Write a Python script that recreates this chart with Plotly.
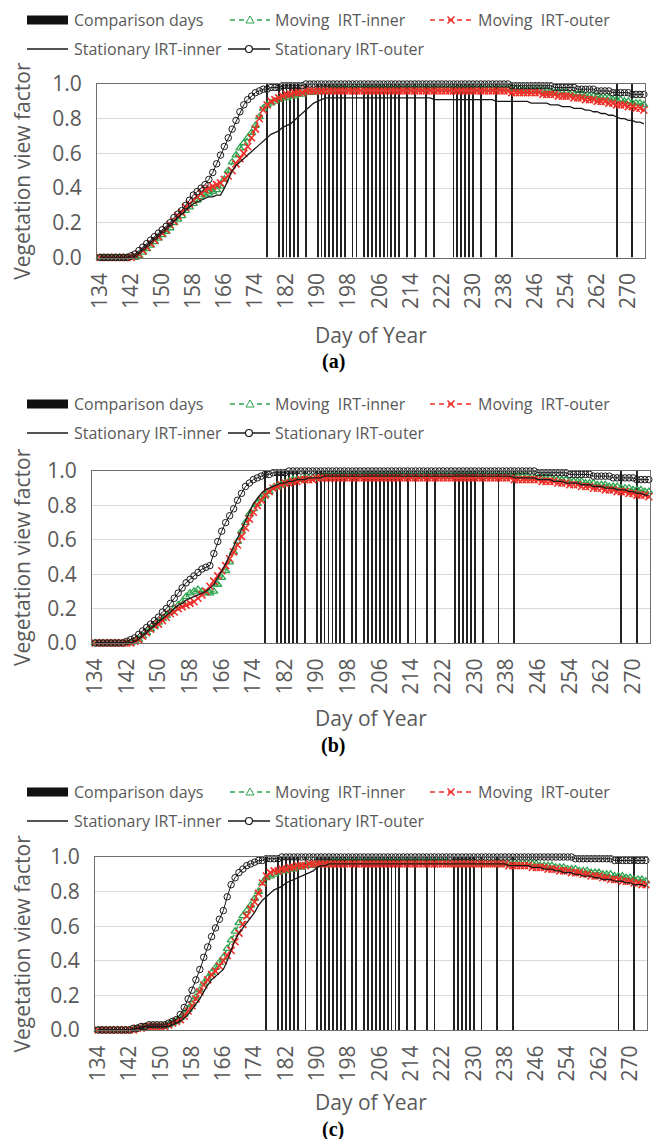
import plotly.graph_objects as go

W, H = 653, 1139

# ---------------- data ----------------
days = list(range(134, 275))
tick_days = [134, 142, 150, 158, 166, 174, 182, 190, 198, 206, 214, 222, 230, 238, 246, 254, 262, 270]
y_ticks = [0.0, 0.2, 0.4, 0.6, 0.8, 1.0]

comparison_days = [177, 180, 181, 182, 183, 184, 185, 187, 190, 191, 192, 193, 194, 195, 196, 197,
                   199, 200, 202, 203, 204, 205, 206, 207, 208, 209, 210, 211, 213, 215, 218, 220,
                   225, 226, 227, 228, 229, 230, 232, 236, 240, 267, 271]
comparison_values = [1, 1, 1, 1, 1, 1, 1, 1, 1, 1, 1, 1, 1, 1, 1, 1,
                     1, 1, 1, 1, 1, 1, 1, 1, 1, 1, 1, 1, 1, 1, 1, 1,
                     1, 1, 1, 1, 1, 1, 1, 1, 1, 1, 1]

# ---- panel (a)
moving_inner_a = [
    0, 0, 0, 0, 0, 0, 0, 0, 0, 0,
    0.01, 0.03, 0.05, 0.07, 0.09, 0.11, 0.13, 0.15, 0.17, 0.20,
    0.22, 0.24, 0.27, 0.29, 0.31, 0.33, 0.35, 0.36, 0.37, 0.38,
    0.39, 0.41, 0.45, 0.50, 0.55, 0.59, 0.63, 0.66, 0.69, 0.72,
    0.76, 0.81, 0.86, 0.88, 0.89, 0.90, 0.91, 0.92, 0.92, 0.93,
    0.93, 0.94, 0.94, 0.95, 0.95, 0.95, 0.96, 0.96, 0.96, 0.96,
    0.97, 0.97, 0.97, 0.97, 0.97, 0.97, 0.97, 0.97, 0.97, 0.97,
    0.97, 0.97, 0.97, 0.97, 0.97, 0.97, 0.97, 0.97, 0.97, 0.97,
    0.97, 0.97, 0.97, 0.97, 0.97, 0.97, 0.97, 0.97, 0.97, 0.97,
    0.97, 0.97, 0.97, 0.97, 0.97, 0.97, 0.97, 0.97, 0.97, 0.97,
    0.97, 0.97, 0.97, 0.97, 0.97, 0.97, 0.97, 0.97, 0.97, 0.96,
    0.96, 0.96, 0.96, 0.96, 0.96, 0.96, 0.95, 0.95, 0.95, 0.95,
    0.95, 0.94, 0.94, 0.94, 0.94, 0.93, 0.93, 0.93, 0.93, 0.92,
    0.92, 0.92, 0.91, 0.91, 0.91, 0.90, 0.90, 0.89, 0.89, 0.89,
    0.88]
moving_outer_a = [
    0, 0, 0, 0, 0, 0, 0, 0, 0, 0.01,
    0.02, 0.04, 0.06, 0.08, 0.10, 0.12, 0.14, 0.16, 0.19, 0.21,
    0.24, 0.26, 0.29, 0.31, 0.33, 0.35, 0.37, 0.39, 0.40, 0.41,
    0.42, 0.43, 0.45, 0.47, 0.50, 0.54, 0.57, 0.60, 0.64, 0.69,
    0.74, 0.80, 0.85, 0.88, 0.90, 0.91, 0.92, 0.93, 0.94, 0.94,
    0.95, 0.95, 0.95, 0.96, 0.96, 0.96, 0.96, 0.96, 0.96, 0.96,
    0.96, 0.96, 0.96, 0.96, 0.96, 0.96, 0.96, 0.96, 0.96, 0.96,
    0.96, 0.96, 0.96, 0.96, 0.96, 0.96, 0.96, 0.96, 0.96, 0.96,
    0.96, 0.96, 0.96, 0.96, 0.96, 0.96, 0.96, 0.96, 0.96, 0.96,
    0.96, 0.96, 0.96, 0.96, 0.96, 0.96, 0.96, 0.96, 0.96, 0.96,
    0.96, 0.96, 0.96, 0.96, 0.96, 0.96, 0.95, 0.95, 0.95, 0.95,
    0.95, 0.95, 0.95, 0.95, 0.94, 0.94, 0.94, 0.94, 0.93, 0.93,
    0.93, 0.93, 0.92, 0.92, 0.92, 0.91, 0.91, 0.91, 0.90, 0.90,
    0.90, 0.89, 0.89, 0.88, 0.88, 0.88, 0.87, 0.87, 0.86, 0.86,
    0.85]
stationary_inner_a = [
    0, 0, 0, 0, 0, 0, 0, 0, 0, 0.01,
    0.03, 0.05, 0.07, 0.09, 0.11, 0.13, 0.15, 0.17, 0.19, 0.21,
    0.23, 0.25, 0.27, 0.29, 0.31, 0.32, 0.33, 0.34, 0.35, 0.35,
    0.36, 0.36, 0.40, 0.45, 0.50, 0.53, 0.55, 0.57, 0.59, 0.61,
    0.63, 0.65, 0.67, 0.69, 0.71, 0.72, 0.73, 0.75, 0.76, 0.77,
    0.79, 0.81, 0.83, 0.85, 0.87, 0.89, 0.90, 0.91, 0.92, 0.92,
    0.92, 0.92, 0.92, 0.92, 0.92, 0.92, 0.92, 0.92, 0.92, 0.92,
    0.92, 0.92, 0.92, 0.92, 0.92, 0.92, 0.92, 0.92, 0.92, 0.92,
    0.92, 0.92, 0.92, 0.92, 0.92, 0.92, 0.91, 0.91, 0.91, 0.91,
    0.91, 0.91, 0.91, 0.91, 0.91, 0.91, 0.91, 0.91, 0.91, 0.91,
    0.91, 0.91, 0.90, 0.90, 0.90, 0.90, 0.90, 0.90, 0.90, 0.90,
    0.90, 0.89, 0.89, 0.89, 0.89, 0.89, 0.88, 0.88, 0.88, 0.87,
    0.87, 0.87, 0.86, 0.86, 0.86, 0.85, 0.85, 0.84, 0.84, 0.83,
    0.83, 0.82, 0.82, 0.81, 0.80, 0.80, 0.79, 0.79, 0.78, 0.78,
    0.77]
stationary_outer_a = [
    0, 0, 0, 0, 0, 0, 0, 0, 0.01, 0.02,
    0.04, 0.06, 0.08, 0.10, 0.12, 0.14, 0.16, 0.18, 0.20, 0.23,
    0.25, 0.27, 0.30, 0.33, 0.36, 0.38, 0.40, 0.42, 0.45, 0.49,
    0.54, 0.59, 0.64, 0.69, 0.74, 0.79, 0.84, 0.88, 0.91, 0.93,
    0.95, 0.96, 0.97, 0.97, 0.98, 0.98, 0.98, 0.99, 0.99, 0.99,
    0.99, 0.99, 0.99, 1.00, 1.00, 1.00, 1.00, 1.00, 1.00, 1.00,
    1.00, 1.00, 1.00, 1.00, 1.00, 1.00, 1.00, 1.00, 1.00, 1.00,
    1.00, 1.00, 1.00, 1.00, 1.00, 1.00, 1.00, 1.00, 1.00, 1.00,
    1.00, 1.00, 1.00, 1.00, 1.00, 1.00, 1.00, 1.00, 1.00, 1.00,
    1.00, 1.00, 1.00, 1.00, 1.00, 1.00, 1.00, 1.00, 1.00, 1.00,
    1.00, 1.00, 1.00, 1.00, 1.00, 1.00, 0.99, 0.99, 0.99, 0.99,
    0.99, 0.99, 0.99, 0.99, 0.99, 0.99, 0.99, 0.98, 0.98, 0.98,
    0.98, 0.98, 0.98, 0.97, 0.97, 0.97, 0.97, 0.97, 0.96, 0.96,
    0.96, 0.96, 0.95, 0.95, 0.95, 0.95, 0.95, 0.94, 0.94, 0.94,
    0.94]

# ---- panel (b)
moving_inner_b = [
    0, 0, 0, 0, 0, 0, 0, 0, 0, 0,
    0.01, 0.02, 0.04, 0.06, 0.08, 0.10, 0.12, 0.14, 0.16, 0.18,
    0.20, 0.22, 0.24, 0.27, 0.29, 0.30, 0.31, 0.30, 0.29, 0.29,
    0.30, 0.34, 0.38, 0.42, 0.47, 0.53, 0.59, 0.65, 0.70, 0.75,
    0.78, 0.81, 0.84, 0.86, 0.88, 0.90, 0.91, 0.92, 0.93, 0.94,
    0.95, 0.95, 0.95, 0.96, 0.96, 0.96, 0.96, 0.96, 0.97, 0.97,
    0.97, 0.97, 0.97, 0.97, 0.97, 0.97, 0.97, 0.97, 0.97, 0.97,
    0.97, 0.97, 0.97, 0.97, 0.97, 0.97, 0.97, 0.97, 0.97, 0.97,
    0.97, 0.97, 0.97, 0.97, 0.97, 0.97, 0.97, 0.97, 0.97, 0.97,
    0.97, 0.97, 0.97, 0.97, 0.97, 0.97, 0.97, 0.97, 0.97, 0.97,
    0.97, 0.97, 0.97, 0.97, 0.97, 0.97, 0.97, 0.97, 0.97, 0.97,
    0.96, 0.96, 0.96, 0.96, 0.96, 0.96, 0.95, 0.95, 0.95, 0.95,
    0.94, 0.94, 0.94, 0.94, 0.93, 0.93, 0.93, 0.92, 0.92, 0.92,
    0.91, 0.91, 0.91, 0.90, 0.90, 0.90, 0.89, 0.89, 0.89, 0.88,
    0.88]
moving_outer_b = [
    0, 0, 0, 0, 0, 0, 0, 0, 0, 0,
    0.01, 0.02, 0.04, 0.06, 0.08, 0.10, 0.11, 0.13, 0.15, 0.17,
    0.18, 0.20, 0.21, 0.22, 0.23, 0.24, 0.26, 0.28, 0.30, 0.33,
    0.36, 0.39, 0.42, 0.45, 0.49, 0.53, 0.57, 0.62, 0.67, 0.72,
    0.76, 0.80, 0.83, 0.86, 0.88, 0.90, 0.91, 0.92, 0.93, 0.93,
    0.94, 0.94, 0.95, 0.95, 0.95, 0.95, 0.96, 0.96, 0.96, 0.96,
    0.96, 0.96, 0.96, 0.96, 0.96, 0.96, 0.96, 0.96, 0.96, 0.96,
    0.96, 0.96, 0.96, 0.96, 0.96, 0.96, 0.96, 0.96, 0.96, 0.96,
    0.96, 0.96, 0.96, 0.96, 0.96, 0.96, 0.96, 0.96, 0.96, 0.96,
    0.96, 0.96, 0.96, 0.96, 0.96, 0.96, 0.96, 0.96, 0.96, 0.96,
    0.96, 0.96, 0.96, 0.96, 0.96, 0.96, 0.95, 0.95, 0.95, 0.95,
    0.95, 0.95, 0.95, 0.94, 0.94, 0.94, 0.94, 0.93, 0.93, 0.93,
    0.92, 0.92, 0.92, 0.91, 0.91, 0.91, 0.90, 0.90, 0.90, 0.89,
    0.89, 0.89, 0.88, 0.88, 0.88, 0.87, 0.87, 0.86, 0.86, 0.86,
    0.85]
stationary_inner_b = [
    0, 0, 0, 0, 0, 0, 0, 0, 0, 0,
    0.01, 0.02, 0.04, 0.06, 0.08, 0.10, 0.12, 0.14, 0.16, 0.18,
    0.20, 0.22, 0.23, 0.25, 0.26, 0.27, 0.28, 0.29, 0.30, 0.32,
    0.34, 0.38, 0.42, 0.46, 0.51, 0.56, 0.61, 0.66, 0.71, 0.76,
    0.81, 0.84, 0.87, 0.89, 0.90, 0.91, 0.92, 0.93, 0.93, 0.94,
    0.94, 0.95, 0.95, 0.95, 0.96, 0.96, 0.96, 0.96, 0.97, 0.97,
    0.97, 0.97, 0.97, 0.97, 0.97, 0.97, 0.97, 0.97, 0.97, 0.97,
    0.97, 0.97, 0.97, 0.97, 0.97, 0.97, 0.97, 0.97, 0.97, 0.97,
    0.97, 0.97, 0.97, 0.97, 0.97, 0.97, 0.97, 0.97, 0.97, 0.97,
    0.97, 0.97, 0.97, 0.97, 0.97, 0.97, 0.97, 0.97, 0.97, 0.97,
    0.97, 0.97, 0.97, 0.97, 0.97, 0.97, 0.96, 0.96, 0.96, 0.96,
    0.96, 0.96, 0.95, 0.95, 0.95, 0.95, 0.94, 0.94, 0.94, 0.93,
    0.93, 0.93, 0.93, 0.92, 0.92, 0.92, 0.91, 0.91, 0.91, 0.90,
    0.90, 0.90, 0.89, 0.89, 0.89, 0.88, 0.88, 0.87, 0.87, 0.86,
    0.86]
stationary_outer_b = [
    0, 0, 0, 0, 0, 0, 0, 0, 0.01, 0.02,
    0.03, 0.05, 0.07, 0.09, 0.11, 0.13, 0.15, 0.18, 0.20, 0.23,
    0.26, 0.29, 0.32, 0.35, 0.37, 0.39, 0.41, 0.43, 0.44, 0.45,
    0.52, 0.59, 0.65, 0.70, 0.74, 0.78, 0.83, 0.87, 0.91, 0.93,
    0.95, 0.96, 0.97, 0.98, 0.98, 0.99, 0.99, 0.99, 0.99, 1.00,
    1.00, 1.00, 1.00, 1.00, 1.00, 1.00, 1.00, 1.00, 1.00, 1.00,
    1.00, 1.00, 1.00, 1.00, 1.00, 1.00, 1.00, 1.00, 1.00, 1.00,
    1.00, 1.00, 1.00, 1.00, 1.00, 1.00, 1.00, 1.00, 1.00, 1.00,
    1.00, 1.00, 1.00, 1.00, 1.00, 1.00, 1.00, 1.00, 1.00, 1.00,
    1.00, 1.00, 1.00, 1.00, 1.00, 1.00, 1.00, 1.00, 1.00, 1.00,
    1.00, 1.00, 1.00, 1.00, 1.00, 1.00, 1.00, 1.00, 1.00, 1.00,
    1.00, 1.00, 0.99, 0.99, 0.99, 0.99, 0.99, 0.99, 0.99, 0.99,
    0.98, 0.98, 0.98, 0.98, 0.98, 0.98, 0.97, 0.97, 0.97, 0.97,
    0.97, 0.96, 0.96, 0.96, 0.96, 0.96, 0.96, 0.95, 0.95, 0.95,
    0.95]

# ---- panel (c)
moving_inner_c = [
    0, 0, 0, 0, 0, 0, 0, 0, 0, 0,
    0.01, 0.01, 0.02, 0.02, 0.02, 0.02, 0.02, 0.02, 0.03, 0.04,
    0.05, 0.07, 0.09, 0.12, 0.15, 0.19, 0.23, 0.27, 0.30, 0.33,
    0.36, 0.39, 0.42, 0.47, 0.52, 0.57, 0.62, 0.66, 0.69, 0.72,
    0.76, 0.80, 0.85, 0.88, 0.89, 0.90, 0.91, 0.92, 0.92, 0.93,
    0.93, 0.94, 0.94, 0.95, 0.95, 0.95, 0.96, 0.96, 0.96, 0.96,
    0.97, 0.97, 0.97, 0.97, 0.97, 0.97, 0.97, 0.97, 0.97, 0.97,
    0.97, 0.97, 0.97, 0.97, 0.97, 0.97, 0.97, 0.97, 0.97, 0.97,
    0.97, 0.97, 0.97, 0.97, 0.97, 0.97, 0.97, 0.97, 0.97, 0.97,
    0.96, 0.96, 0.96, 0.96, 0.96, 0.96, 0.96, 0.96, 0.96, 0.96,
    0.96, 0.96, 0.96, 0.96, 0.96, 0.96, 0.96, 0.96, 0.96, 0.96,
    0.96, 0.96, 0.96, 0.95, 0.95, 0.95, 0.95, 0.94, 0.94, 0.94,
    0.93, 0.93, 0.93, 0.92, 0.92, 0.92, 0.91, 0.91, 0.91, 0.90,
    0.90, 0.90, 0.89, 0.89, 0.89, 0.88, 0.88, 0.87, 0.87, 0.87,
    0.86]
moving_outer_c = [
    0, 0, 0, 0, 0, 0, 0, 0, 0, 0,
    0.01, 0.01, 0.02, 0.02, 0.02, 0.02, 0.02, 0.02, 0.03, 0.04,
    0.05, 0.06, 0.08, 0.11, 0.14, 0.18, 0.22, 0.26, 0.29, 0.32,
    0.34, 0.37, 0.40, 0.43, 0.46, 0.51, 0.56, 0.61, 0.66, 0.70,
    0.74, 0.79, 0.85, 0.89, 0.91, 0.92, 0.92, 0.93, 0.93, 0.94,
    0.94, 0.95, 0.95, 0.95, 0.96, 0.96, 0.96, 0.96, 0.96, 0.96,
    0.96, 0.96, 0.96, 0.96, 0.96, 0.96, 0.96, 0.96, 0.96, 0.96,
    0.96, 0.96, 0.96, 0.96, 0.96, 0.96, 0.96, 0.96, 0.96, 0.96,
    0.96, 0.96, 0.96, 0.96, 0.96, 0.96, 0.96, 0.96, 0.96, 0.96,
    0.96, 0.96, 0.96, 0.96, 0.96, 0.96, 0.96, 0.96, 0.96, 0.96,
    0.96, 0.96, 0.96, 0.96, 0.96, 0.95, 0.95, 0.95, 0.95, 0.95,
    0.95, 0.94, 0.94, 0.94, 0.94, 0.93, 0.93, 0.93, 0.92, 0.92,
    0.92, 0.91, 0.91, 0.91, 0.90, 0.90, 0.89, 0.89, 0.89, 0.88,
    0.88, 0.87, 0.87, 0.87, 0.86, 0.86, 0.86, 0.85, 0.85, 0.84,
    0.84]
stationary_inner_c = [
    0, 0, 0, 0, 0, 0, 0, 0, 0, 0,
    0.01, 0.01, 0.02, 0.02, 0.02, 0.02, 0.02, 0.02, 0.02, 0.03,
    0.04, 0.05, 0.07, 0.09, 0.12, 0.15, 0.18, 0.22, 0.26, 0.29,
    0.31, 0.33, 0.35, 0.40, 0.46, 0.52, 0.56, 0.59, 0.62, 0.65,
    0.68, 0.72, 0.75, 0.77, 0.79, 0.81, 0.82, 0.83, 0.85, 0.86,
    0.87, 0.88, 0.89, 0.90, 0.91, 0.92, 0.94, 0.95, 0.95, 0.96,
    0.96, 0.96, 0.96, 0.96, 0.96, 0.96, 0.96, 0.96, 0.96, 0.96,
    0.96, 0.96, 0.96, 0.96, 0.96, 0.96, 0.96, 0.96, 0.96, 0.96,
    0.96, 0.96, 0.96, 0.96, 0.96, 0.96, 0.96, 0.96, 0.96, 0.96,
    0.96, 0.96, 0.96, 0.96, 0.96, 0.96, 0.96, 0.96, 0.96, 0.96,
    0.96, 0.96, 0.96, 0.96, 0.96, 0.95, 0.95, 0.95, 0.95, 0.95,
    0.95, 0.94, 0.94, 0.94, 0.93, 0.93, 0.93, 0.92, 0.92, 0.91,
    0.91, 0.91, 0.90, 0.90, 0.89, 0.89, 0.89, 0.88, 0.88, 0.87,
    0.87, 0.87, 0.86, 0.86, 0.86, 0.85, 0.85, 0.84, 0.84, 0.84,
    0.83]
stationary_outer_c = [
    0, 0, 0, 0, 0, 0, 0, 0, 0, 0.01,
    0.01, 0.02, 0.02, 0.03, 0.03, 0.03, 0.03, 0.03, 0.04, 0.05,
    0.06, 0.09, 0.13, 0.18, 0.23, 0.29, 0.35, 0.42, 0.48, 0.54,
    0.59, 0.64, 0.69, 0.77, 0.84, 0.88, 0.91, 0.93, 0.95, 0.96,
    0.97, 0.98, 0.98, 0.99, 0.99, 0.99, 0.99, 1.00, 1.00, 1.00,
    1.00, 1.00, 1.00, 1.00, 1.00, 1.00, 1.00, 1.00, 1.00, 1.00,
    1.00, 1.00, 1.00, 1.00, 1.00, 1.00, 1.00, 1.00, 1.00, 1.00,
    1.00, 1.00, 1.00, 1.00, 1.00, 1.00, 1.00, 1.00, 1.00, 1.00,
    1.00, 1.00, 1.00, 1.00, 1.00, 1.00, 1.00, 1.00, 1.00, 1.00,
    1.00, 1.00, 1.00, 1.00, 1.00, 1.00, 1.00, 1.00, 1.00, 1.00,
    1.00, 1.00, 1.00, 1.00, 1.00, 1.00, 1.00, 1.00, 1.00, 1.00,
    1.00, 1.00, 1.00, 1.00, 1.00, 1.00, 1.00, 1.00, 1.00, 1.00,
    1.00, 1.00, 0.99, 0.99, 0.99, 0.99, 0.99, 0.99, 0.99, 0.99,
    0.99, 0.99, 0.98, 0.98, 0.98, 0.98, 0.98, 0.98, 0.98, 0.98,
    0.98]

series_names = ["Comparison days", "Moving  IRT-inner", "Moving  IRT-outer",
                "Stationary IRT-inner", "Stationary IRT-outer"]
panel_labels = ["(a)", "(b)", "(c)"]

panel_data = [
    (moving_inner_a, moving_outer_a, stationary_inner_a, stationary_outer_a),
    (moving_inner_b, moving_outer_b, stationary_inner_b, stationary_outer_b),
    (moving_inner_c, moving_outer_c, stationary_inner_c, stationary_outer_c),
]
for grp in panel_data:
    for s in grp:
        if len(s) != len(days):
            raise ValueError("length mismatch %d" % len(s))

# ---------------- layout (pixel geometry) ----------------
geom = [
    dict(l=97, r=645, t=84, b=257.5, leg=(20, 49), xt=335, cap=362),
    dict(l=92, r=650, t=471, b=643, leg=(404, 433), xt=718, cap=745),
    dict(l=95, r=647, t=857, b=1030, leg=(792, 821), xt=1102, cap=1129),
]
x_range = [133.2, 274.3]

GREEN = "#2ea44f"
RED = "#f0302a"
INK = "#1a1a1a"
GRAY_TXT = "#595959"
FONT = "Open Sans"
DASH = "5px,4px"


def px(x):
    return x / W


def py(y):
    return 1 - y / H


def note(x, y, text, size, xanchor="center", color=GRAY_TXT, family=FONT, angle=0):
    return dict(x=px(x), y=py(y), xref="paper", yref="paper", text=text, showarrow=False,
                xanchor=xanchor, yanchor="middle", textangle=angle,
                font=dict(family=family, size=size, color=color))


fig = go.Figure()
shapes = []
annotations = []

for i, (g, (mi, mo, si, so)) in enumerate(zip(geom, panel_data)):
    sfx = "" if i == 0 else str(i + 1)
    xa, ya = "x" + sfx, "y" + sfx

    fig.add_trace(go.Bar(x=comparison_days, y=comparison_values, width=0.22,
                         marker=dict(color="#222222", line=dict(width=0)),
                         name=series_names[0], showlegend=False, xaxis=xa, yaxis=ya))
    fig.add_trace(go.Scatter(x=days, y=mi, mode="lines+markers", name=series_names[1],
                             line=dict(color=GREEN, width=1.5, dash=DASH),
                             marker=dict(symbol="triangle-up-open", size=7,
                                         color=GREEN, line=dict(width=1.3, color=GREEN)),
                             cliponaxis=False, showlegend=False, xaxis=xa, yaxis=ya))
    fig.add_trace(go.Scatter(x=days, y=mo, mode="lines+markers", name=series_names[2],
                             line=dict(color=RED, width=1.5, dash=DASH),
                             marker=dict(symbol="x-thin", size=7,
                                         color=RED, line=dict(width=1.6, color=RED)),
                             cliponaxis=False, showlegend=False, xaxis=xa, yaxis=ya))
    fig.add_trace(go.Scatter(x=days, y=si, mode="lines", name=series_names[3],
                             line=dict(color=INK, width=1.3),
                             cliponaxis=False, showlegend=False, xaxis=xa, yaxis=ya))
    fig.add_trace(go.Scatter(x=days, y=so, mode="lines+markers", name=series_names[4],
                             line=dict(color=INK, width=1),
                             marker=dict(symbol="circle-open", size=6.5,
                                         color=INK, line=dict(width=1, color=INK)),
                             cliponaxis=False, showlegend=False, xaxis=xa, yaxis=ya))

    xdom = [px(g["l"]), px(g["r"])]
    ydom = [py(g["b"]), py(g["t"])]
    fig.layout["xaxis" + sfx] = dict(
        domain=xdom, anchor=ya, range=x_range, tickmode="array", tickvals=tick_days,
        ticktext=[str(d) for d in tick_days], tickangle=-90, showgrid=False, zeroline=False,
        showline=True, mirror=True, linecolor="#6e6e6e", linewidth=1, ticks="",
        ticklabelstandoff=6, automargin=False,
        tickfont=dict(family=FONT, size=21, color=GRAY_TXT))
    fig.layout["yaxis" + sfx] = dict(
        domain=ydom, anchor=xa, range=[0, 1], tickmode="array", tickvals=y_ticks,
        ticktext=["%.1f" % v for v in y_ticks], showgrid=True, gridcolor="#d9d9d9",
        gridwidth=1, zeroline=False, showline=True, mirror=True, linecolor="#6e6e6e",
        linewidth=1, ticks="", ticklabelstandoff=10, automargin=False,
        tickfont=dict(family=FONT, size=21, color=GRAY_TXT))

    cx = (g["l"] + g["r"]) / 2
    annotations.append(note(22, (g["t"] + g["b"]) / 2, "Vegetation view factor", 21, angle=-90))
    annotations.append(note(cx, g["xt"], "Day of Year", 21))
    annotations.append(note(cx - 38, g["cap"], "<b>%s</b>" % panel_labels[i], 20,
                            color="black", family="Liberation Serif"))

    # legend (two rows)
    r1, r2 = g["leg"]
    shapes.append(dict(type="rect", xref="paper", yref="paper", x0=px(27), x1=px(68),
                       y0=py(r1 + 4.5), y1=py(r1 - 4.5), fillcolor="#111111", line=dict(width=0)))
    annotations.append(note(72, r1, series_names[0], 16, xanchor="left"))
    shapes.append(dict(type="line", xref="paper", yref="paper", x0=px(230), x1=px(270),
                       y0=py(r1), y1=py(r1), line=dict(color=GREEN, width=1.5, dash=DASH)))
    tri = "M %f %f L %f %f L %f %f Z" % (px(250), py(r1 - 4), px(246), py(r1 + 3),
                                         px(254), py(r1 + 3))
    shapes.append(dict(type="path", xref="paper", yref="paper", path=tri, fillcolor="white",
                       line=dict(color=GREEN, width=1)))
    annotations.append(note(273, r1, series_names[1], 16, xanchor="left"))
    shapes.append(dict(type="line", xref="paper", yref="paper", x0=px(430), x1=px(472),
                       y0=py(r1), y1=py(r1), line=dict(color=RED, width=1.5, dash=DASH)))
    xm = "M %f %f L %f %f M %f %f L %f %f" % (px(447.5), py(r1 - 3.5), px(454.5), py(r1 + 3.5),
                                              px(447.5), py(r1 + 3.5), px(454.5), py(r1 - 3.5))
    shapes.append(dict(type="path", xref="paper", yref="paper", path=xm,
                       line=dict(color=RED, width=1.5)))
    annotations.append(note(476, r1, series_names[2], 16, xanchor="left"))
    shapes.append(dict(type="line", xref="paper", yref="paper", x0=px(27), x1=px(68),
                       y0=py(r2), y1=py(r2), line=dict(color=INK, width=1.5)))
    annotations.append(note(72, r2, series_names[3], 16, xanchor="left"))
    shapes.append(dict(type="line", xref="paper", yref="paper", x0=px(228), x1=px(270),
                       y0=py(r2), y1=py(r2), line=dict(color=INK, width=1.5)))
    shapes.append(dict(type="circle", xref="paper", yref="paper", x0=px(245.5), x1=px(252.5),
                       y0=py(r2 + 3.5), y1=py(r2 - 3.5), fillcolor="white",
                       line=dict(color=INK, width=1.2)))
    annotations.append(note(273, r2, series_names[4], 16, xanchor="left"))

fig.update_layout(width=W, height=H, margin=dict(l=0, r=0, t=0, b=0, autoexpand=False),
                  paper_bgcolor="white", plot_bgcolor="white", showlegend=False,
                  shapes=shapes, annotations=annotations,
                  font=dict(family=FONT, color=GRAY_TXT))

fig.write_html("out.html")
